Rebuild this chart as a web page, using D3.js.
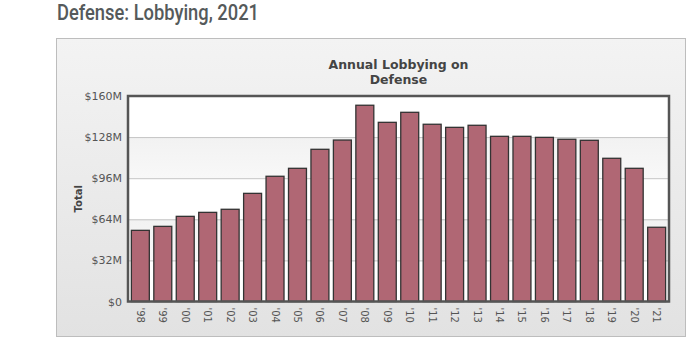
<!DOCTYPE html>
<html>
<head>
<meta charset="utf-8">
<script src="https://cdn.jsdelivr.net/npm/d3@7"></script>
<style>
  body { margin: 0; background: #fff; }
  svg { display: block; }
</style>
</head>
<body>
<svg id="drawing_region"></svg>
<script>
const years = ["'98","'99","'00","'01","'02","'03","'04","'05","'06","'07","'08","'09",
               "'10","'11","'12","'13","'14","'15","'16","'17","'18","'19","'20","'21"];
const totals = [55.4, 58.5, 66.3, 69.4, 71.8, 84.2, 97.5, 103.7, 118.5, 125.7, 152.8, 139.5,
                147.3, 138.0, 135.6, 137.2, 128.6, 128.6, 127.8, 126.3, 125.5, 111.5, 103.7, 57.8];
const yTicks = [0, 32, 64, 96, 128, 160];

const W = 698, H = 353;
const plot = {left: 128, top: 96, right: 669, bottom: 301.5};

const svg = d3.select('#drawing_region')
    .attr('width', W)
    .attr('height', H);

const defs = svg.append('defs');
const bg = defs.append('linearGradient')
    .attr('id', 'bg').attr('x1', 0).attr('y1', 0).attr('x2', 0).attr('y2', 1);
bg.append('stop').attr('offset', '0%').attr('stop-color', '#f3f3f3');
bg.append('stop').attr('offset', '100%').attr('stop-color', '#e2e2e2');

const band = defs.append('linearGradient')
    .attr('id', 'band').attr('x1', 0).attr('y1', 0).attr('x2', 0).attr('y2', 1);
band.append('stop').attr('offset', '0%').attr('stop-color', '#f2f2f2');
band.append('stop').attr('offset', '100%').attr('stop-color', '#f8f8f8');

// page title
svg.append('text')
    .attr('x', 57)
    .attr('y', 20)
    .attr('fill', '#555a5b')
    .attr('font-family', "Roboto, 'DejaVu Sans Condensed', sans-serif")
    .attr('font-weight', 500)
    .attr('font-size', '22px')
    .attr('textLength', 202)
    .attr('lengthAdjust', 'spacingAndGlyphs')
    .text('Defense: Lobbying, 2021');

// outer box
svg.append('rect')
    .attr('x', 56.5).attr('y', 38.5)
    .attr('width', 629).attr('height', 298)
    .attr('fill', 'url(#bg)')
    .attr('stroke', '#bdbdbd');

// chart title
const title = svg.append('text')
    .attr('text-anchor', 'middle')
    .attr('fill', '#444')
    .attr('font-family', "Verdana, 'DejaVu Sans', sans-serif")
    .attr('font-weight', 'bold')
    .attr('font-size', '12.5px');
title.append('tspan').attr('x', (plot.left + plot.right) / 2).attr('y', 69).text('Annual Lobbying on');
title.append('tspan').attr('x', (plot.left + plot.right) / 2).attr('y', 84).text('Defense');

const xscale = d3.scaleBand()
    .domain(years)
    .range([plot.left, plot.right])
    .paddingInner(0.2)
    .paddingOuter(0.15);

const yscale = d3.scaleLinear()
    .domain([0, 160])
    .range([plot.bottom, plot.top]);

// plot background with alternating bands
const chart = svg.append('g');
chart.append('rect')
    .attr('x', plot.left).attr('y', plot.top)
    .attr('width', plot.right - plot.left).attr('height', plot.bottom - plot.top)
    .attr('fill', '#fff');

chart.selectAll('.band')
    .data(d3.pairs(yTicks).filter((p, i) => i % 2 === 1))
    .join('rect')
    .attr('x', plot.left)
    .attr('y', d => yscale(d[1]))
    .attr('width', plot.right - plot.left)
    .attr('height', d => yscale(d[0]) - yscale(d[1]))
    .attr('fill', 'url(#band)');

// y axis with grid
const yaxis = d3.axisLeft(yscale)
    .tickValues(yTicks)
    .tickSize(-(plot.right - plot.left))
    .tickPadding(6)
    .tickFormat(d => d === 0 ? '$0' : `$${d}M`);

const yaxis_group = svg.append('g')
    .attr('transform', `translate(${plot.left}, 0)`)
    .call(yaxis);
yaxis_group.select('.domain').remove();
yaxis_group.selectAll('line').attr('stroke', '#c4c4c4');
yaxis_group.selectAll('text')
    .attr('fill', '#555')
    .attr('font-family', "Verdana, 'DejaVu Sans', sans-serif")
    .attr('font-size', '11px');

// bars
svg.append('g').selectAll('rect')
    .data(totals)
    .join('rect')
    .attr('x', (d, i) => xscale(years[i]))
    .attr('y', d => yscale(d))
    .attr('width', xscale.bandwidth())
    .attr('height', d => plot.bottom - yscale(d))
    .attr('fill', '#b06774')
    .attr('stroke', '#333')
    .attr('stroke-width', 1.3);

// plot frame
svg.append('rect')
    .attr('x', plot.left).attr('y', plot.top)
    .attr('width', plot.right - plot.left).attr('height', plot.bottom - plot.top)
    .attr('fill', 'none')
    .attr('stroke', '#555')
    .attr('stroke-width', 2.5);

// x axis, rotated labels
const xaxis = d3.axisBottom(xscale).tickSize(0).tickPadding(0);
const xaxis_group = svg.append('g')
    .attr('transform', `translate(0, ${plot.bottom})`)
    .call(xaxis);
xaxis_group.select('.domain').remove();
xaxis_group.selectAll('text')
    .attr('fill', '#555')
    .attr('font-family', "Verdana, 'DejaVu Sans', sans-serif")
    .attr('font-size', '10px')
    .attr('transform', 'rotate(90)')
    .attr('text-anchor', 'start')
    .attr('x', 6)
    .attr('y', 0)
    .attr('dy', '0.35em');

// y axis title
svg.append('text')
    .attr('transform', `translate(82, ${(plot.top + plot.bottom) / 2}) rotate(-90)`)
    .attr('text-anchor', 'middle')
    .attr('fill', '#444')
    .attr('font-family', "Verdana, 'DejaVu Sans', sans-serif")
    .attr('font-weight', 'bold')
    .attr('font-size', '10px')
    .text('Total');
</script>
</body>
</html>
